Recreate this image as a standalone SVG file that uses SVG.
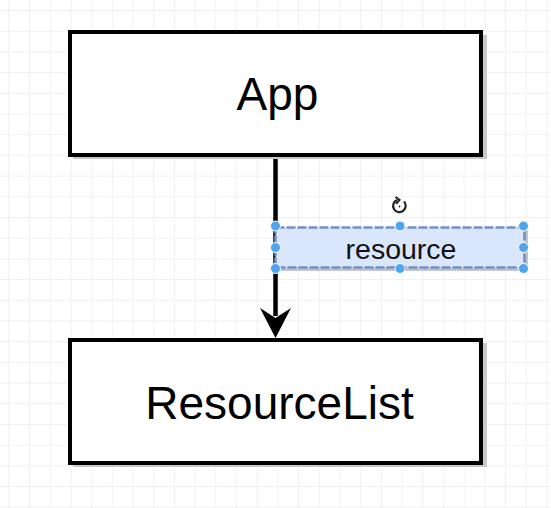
<svg xmlns="http://www.w3.org/2000/svg" width="551" height="508" viewBox="0 0 551 508">
<defs>
<pattern id="grid" patternUnits="userSpaceOnUse" x="8.3" y="10" width="20.7" height="20.7">
<path d="M0 0.5H20.7M0.5 0V20.7" fill="none" stroke="#f0f0f0" stroke-width="1"/>
</pattern>
<style>
.box{fill:#ffffff;stroke:#000000;stroke-width:4}
.shadow{fill:#c8c8c8}
.big{font-family:"Liberation Sans",Arial,sans-serif;font-size:46px;fill:#000;text-anchor:middle}
.lbl{font-family:"Liberation Sans",Arial,sans-serif;font-size:28.5px;fill:#111;text-anchor:middle}
.handle{fill:#4ea6ee;stroke:#ffffff;stroke-width:1}
</style>
</defs>
<rect width="551" height="508" fill="#ffffff"/>
<rect width="551" height="508" fill="url(#grid)"/>
<g id="connectors">
<line x1="275.5" y1="157" x2="275.5" y2="316" stroke="#000" stroke-width="4.5"/>
<polygon points="260,308 275.5,338 291,308 275.5,318" fill="#000"/>
</g>
<g id="node-app">
<rect class="shadow" x="73" y="35" width="414" height="124"/>
<rect class="box" x="70" y="32" width="411" height="123"/>
<text class="big" x="277.5" y="110">App</text>
</g>
<g id="node-resourcelist">
<rect class="shadow" x="73" y="343" width="414" height="124"/>
<rect class="box" x="70" y="340" width="411" height="123"/>
<text class="big" x="279.5" y="419">ResourceList</text>
</g>
<g id="label-resource">
<rect x="278" y="230" width="250" height="41" fill="#c4c4c4"/>
<rect x="275.5" y="227.5" width="249" height="40" fill="#dae6fb" stroke="#7090c8" stroke-width="2.6" stroke-dasharray="9 2"/>
<text class="lbl" x="401" y="259">resource</text>
<circle class="handle" cx="275.5" cy="226" r="5"/>
<circle class="handle" cx="400" cy="226" r="5"/>
<circle class="handle" cx="523.5" cy="226" r="5"/>
<circle class="handle" cx="275.5" cy="247.5" r="5"/>
<circle class="handle" cx="523.5" cy="247.5" r="5"/>
<circle class="handle" cx="275.5" cy="268.5" r="5"/>
<circle class="handle" cx="400" cy="268.5" r="5"/>
<circle class="handle" cx="523.5" cy="268.5" r="5"/>
<g id="rotate-icon" fill="none" stroke="#222" stroke-width="2.2">
<path d="M404 201.5 A6.3 6.3 0 1 1 397 200"/>
<path d="M395.5 197 L399.5 200 L396 203.8" stroke-width="2"/>
<circle cx="399.5" cy="206.5" r="0.9" fill="#222" stroke="none"/>
</g>
</g>
</svg>
